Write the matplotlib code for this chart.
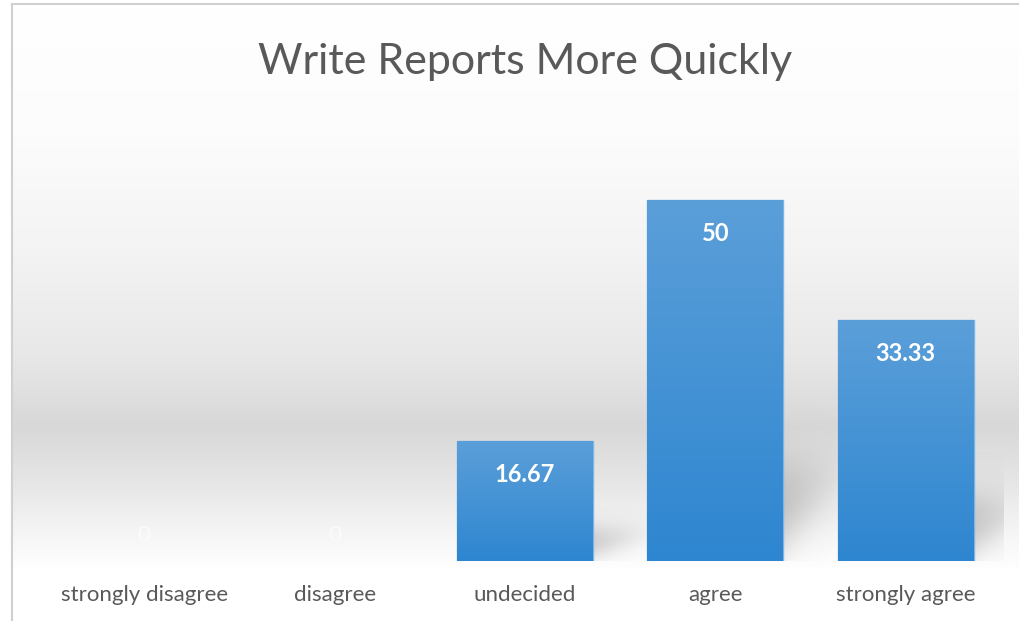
import numpy as np
import matplotlib
matplotlib.use("Agg")
import matplotlib.pyplot as plt
from matplotlib.colors import LinearSegmentedColormap

categories = ["strongly disagree", "disagree", "undecided", "agree", "strongly agree"]
values = [0, 0, 16.67, 50, 33.33]
value_labels = ["0", "0", "16.67", "50", "33.33"]
title = "Write Reports More Quickly"

plt.rcParams['font.family'] = ['Lato', 'DejaVu Sans']

W, H = 1020, 621
fig = plt.figure(figsize=(W / 100, H / 100), dpi=100)
fig.patch.set_facecolor('white')

# background gradient panel
bg = fig.add_axes([12 / W, 0, 1 - 12 / W, 1 - 5 / H], zorder=0)
bg.set_axis_off()
ys = np.array([0, 130, 250, 350, 420, 470, 530, 565, 616])  # pixel rows from top
cs = np.array([255, 252, 243, 232, 216, 228, 246, 255, 255]) / 255.0
rows = np.arange(616)
col = np.interp(rows, ys, cs)
img = np.repeat(col[:, None], 4, axis=1)
rgb = np.stack([img, img, img], axis=-1)
bg.imshow(rgb, aspect='auto', extent=[0, 1, 0, 1], interpolation='bilinear')
bg.set_xlim(0, 1)
bg.set_ylim(0, 1)

# frame lines
fig.add_artist(plt.Line2D([12 / W, 12 / W], [0, 1 - 4 / H], color='#d0d0d0', lw=1.5, zorder=1))
fig.add_artist(plt.Line2D([12 / W, 1], [1 - 4 / H, 1 - 4 / H], color='#d0d0d0', lw=1.5, zorder=1))

ax = fig.add_axes([49 / W, 60 / H, (1001 - 49) / W, 397 / H], zorder=2)
ax.patch.set_alpha(0)
x = np.arange(len(categories))
bw = 0.714

# soft perspective shadows behind bars
for xi, v in zip(x, values):
    if v <= 0:
        continue
    xl = xi - bw / 2
    xr = xi + bw / 2
    reach = 0.32
    nx, ny = 200, 200
    gx = np.linspace(xl, min(xr + reach + 0.05, len(categories) - 0.49), nx)
    gy = np.linspace(0, v * 0.45, ny)
    GX, GY = np.meshgrid(gx, gy)
    t = np.clip((GX - xr) / reach, 0, None)
    top = v * 0.26
    bottom = v * 0.05 + t * v * 0.16
    s = v * 0.035 + 0.3
    inside = 1 / (1 + np.exp(-(GY - bottom) / s)) * 1 / (1 + np.exp((GY - top) / s))
    fade = np.clip(1 - t, 0, 1) ** 0.6
    a = 0.36 * inside * fade
    sh = np.zeros((ny, nx, 4))
    sh[..., :3] = 0.42
    sh[..., 3] = a
    ax.imshow(sh, extent=[gx[0], gx[-1], 0, gy[-1]], origin='lower', aspect='auto',
              interpolation='bilinear', zorder=1, clip_on=False)

cmap = LinearSegmentedColormap.from_list('bar', ['#2e86d0', '#5b9fd9'])
bars = ax.bar(x, values, width=bw, color='#4a94d6',
              edgecolor=['#7db5e6' if v > 0 else 'none' for v in values],
              linewidth=1.0, zorder=2)
grad = np.linspace(0, 1, 256)[:, None]
for b, v in zip(bars, values):
    if v <= 0:
        continue
    im = ax.imshow(grad, cmap=cmap, extent=[b.get_x(), b.get_x() + b.get_width(), 0, v],
                   origin='lower', aspect='auto', zorder=2.5)
    im.set_clip_path(b)
ax.set_xlim(-0.5, len(categories) - 0.5)
ax.set_ylim(0, 55)

for xi, v, lab in zip(x, values, value_labels):
    if v > 0:
        ax.annotate(lab, (xi, v), xytext=(0, -24), textcoords='offset points', ha='center',
                    va='center', color='white', fontsize=17, fontweight='bold', zorder=4)
    else:
        ax.annotate(lab, (xi, 0), xytext=(0, 19), textcoords='offset points', ha='center',
                    va='center', color='#fbfbfb', fontsize=16, zorder=4)

ax.set_xticks(x)
ax.set_xticklabels(categories, fontsize=16, color='#595959')
ax.tick_params(axis='x', length=0, pad=17)
ax.set_yticks([])
for s in ax.spines.values():
    s.set_visible(False)

fig.text(525 / W, 1 - 62 / H, title, ha='center', va='center', fontsize=31, color='#595959')

fig.savefig('out.png', dpi=100)
